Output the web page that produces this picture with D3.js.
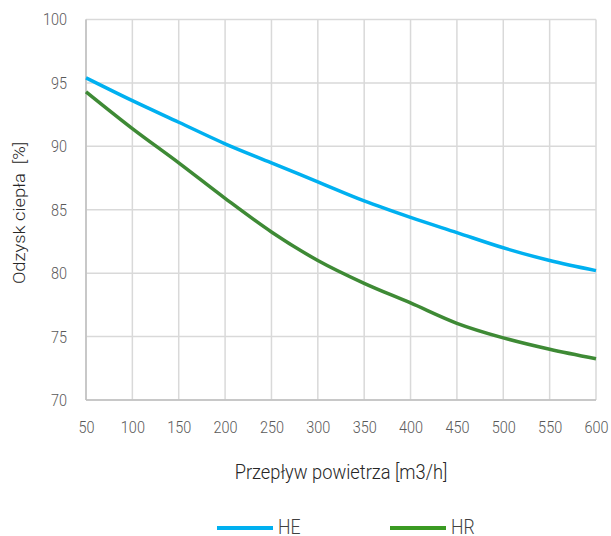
<!DOCTYPE html>
<html lang="pl">
<head>
  <meta charset="UTF-8">
  <title>Odzysk ciepła</title>
  <script src="https://d3js.org/d3.v7.min.js"></script>
  <style>
    body { margin: 0; background: #fff; }
    text { font-family: Roboto, sans-serif; font-weight: 300; }
  </style>
</head>
<body>
  <svg id="chart" width="611" height="536"></svg>
  <script>
    // Data
    const flows = [50, 100, 150, 200, 250, 300, 350, 400, 450, 500, 550, 600];
    const heValues = [95.4, 93.6, 91.9, 90.2, 88.7, 87.2, 85.7, 84.4, 83.2, 82.0, 81.0, 80.2];
    const hrValues = [94.3, 91.4, 88.7, 85.9, 83.25, 81.0, 79.2, 77.65, 76.05, 74.9, 74.0, 73.25];
    const yTicks = [70, 75, 80, 85, 90, 95, 100];
    const seriesNames = ["HE", "HR"];

    const margin = { top: 19.5, right: 15, bottom: 136, left: 86 };
    const width = 611 - margin.left - margin.right,
          height = 536 - margin.top - margin.bottom;

    // squeeze text horizontally to mimic a condensed face
    const condense = (sel, k) => sel.each(function () {
      const len = this.getComputedTextLength();
      d3.select(this).attr("textLength", len * k).attr("lengthAdjust", "spacingAndGlyphs");
    });

    const svg = d3.select("#chart");
    const g = svg.append("g")
      .attr("transform", `translate(${margin.left},${margin.top})`);

    const x = d3.scaleLinear().domain([50, 600]).range([0, width]);
    const y = d3.scaleLinear().domain([70, 100]).range([height, 0]);

    // Grid lines
    g.append("g")
      .selectAll("line")
      .data(flows)
      .join("line")
      .attr("x1", d => x(d)).attr("x2", d => x(d))
      .attr("y1", 0).attr("y2", height)
      .attr("stroke", "#d9d9d9").attr("stroke-width", 1.5);
    g.append("g")
      .selectAll("line")
      .data(yTicks)
      .join("line")
      .attr("x1", 0).attr("x2", width)
      .attr("y1", d => y(d)).attr("y2", d => y(d))
      .attr("stroke", "#d9d9d9").attr("stroke-width", 1.5);

    // Axis lines
    g.append("line")
      .attr("x1", 0).attr("x2", 0).attr("y1", 0).attr("y2", height)
      .attr("stroke", "#bfbfbf").attr("stroke-width", 1.5);
    g.append("line")
      .attr("x1", 0).attr("x2", width).attr("y1", height).attr("y2", height)
      .attr("stroke", "#bfbfbf").attr("stroke-width", 1.5);

    // Axes (labels only)
    const xAxis = g.append("g")
      .attr("transform", `translate(0,${height})`)
      .call(d3.axisBottom(x).tickValues(flows).tickSize(0).tickPadding(21));
    const yAxis = g.append("g")
      .call(d3.axisLeft(y).tickValues(yTicks).tickSize(0).tickPadding(19));
    [xAxis, yAxis].forEach(a => {
      a.select(".domain").remove();
      a.selectAll("text")
        .attr("fill", "#595959")
        .style("font-size", "17px")
        .style("font-family", "Roboto, sans-serif")
        .style("font-weight", 300)
        .call(condense, 0.85);
    });

    // Lines
    const line = vals => d3.line()
      .x((d, i) => x(flows[i]))
      .y(d => y(d))
      .curve(d3.curveMonotoneX)(vals);

    g.append("path")
      .attr("d", line(heValues))
      .attr("fill", "none")
      .attr("stroke", "#00b0f0")
      .attr("stroke-width", 3.5);
    g.append("path")
      .attr("d", line(hrValues))
      .attr("fill", "none")
      .attr("stroke", "#3e8a35")
      .attr("stroke-width", 3.5);

    // Axis titles
    svg.append("text")
      .attr("x", margin.left + width / 2)
      .attr("y", 479)
      .attr("text-anchor", "middle")
      .attr("fill", "#262626")
      .style("font-size", "21px")
      .text("Przepływ powietrza [m3/h]")
      .call(condense, 0.87);
    svg.append("text")
      .attr("transform", "translate(25,213) rotate(-90)")
      .attr("text-anchor", "middle")
      .attr("fill", "#262626")
      .style("font-size", "17px")
      .style("white-space", "pre")
      .text("Odzysk ciepła  [%]")
      .call(condense, 1.08);

    // Legend
    const legendColors = ["#00b0f0", "#3a9a22"];
    const legendX = [217, 390];
    const legend = svg.append("g");
    seriesNames.forEach((name, i) => {
      legend.append("line")
        .attr("x1", legendX[i]).attr("x2", legendX[i] + 56)
        .attr("y1", 528).attr("y2", 528)
        .attr("stroke", legendColors[i]).attr("stroke-width", 4);
      legend.append("text")
        .attr("x", legendX[i] + 61)
        .attr("y", 534)
        .attr("fill", "#404040")
        .style("font-size", "21px")
        .text(name)
        .call(condense, 0.84);
    });
  </script>
</body>
</html>
